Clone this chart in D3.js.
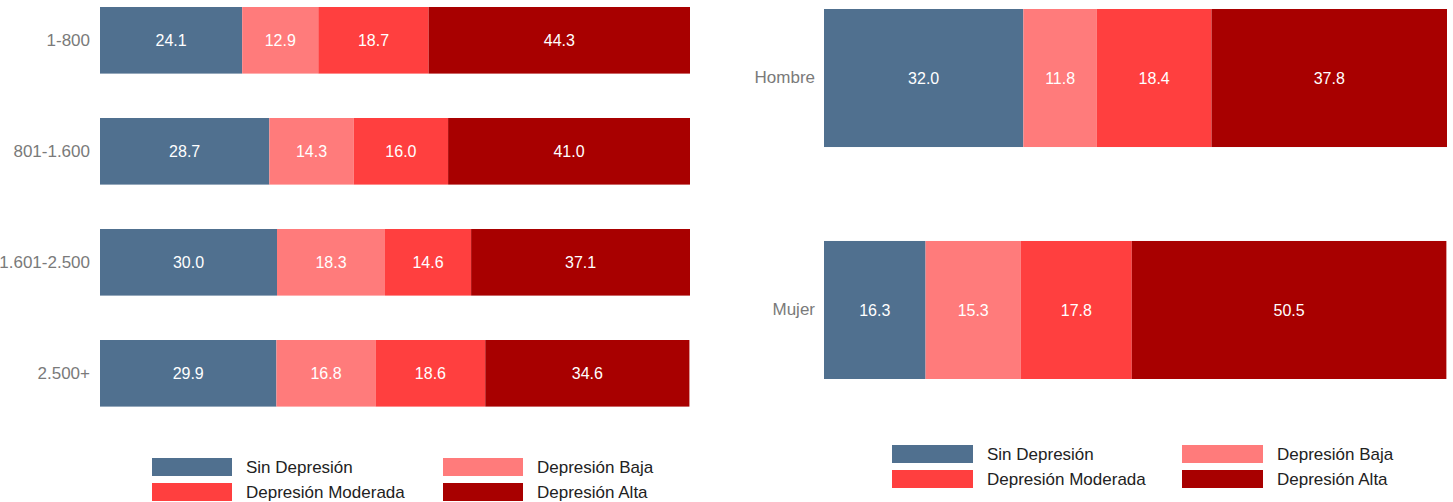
<!DOCTYPE html>
<html>
<head>
<meta charset="utf-8">
<script src="https://cdn.jsdelivr.net/npm/d3@7"></script>
<style>
  html, body { margin: 0; padding: 0; background: #fff; }
  svg { display: block; }
</style>
</head>
<body>
<svg id="chart" width="1453" height="502"></svg>
<script>
// ---- data ----
const series = ["Sin Depresión", "Depresión Baja", "Depresión Moderada", "Depresión Alta"];
const colors = ["#50708F", "#FF7B7B", "#FF3F3F", "#A80000"];

const incomeCategories = ["1-800", "801-1.600", "1.601-2.500", "2.500+"];
const incomeSin       = [24.1, 28.7, 30.0, 29.9];
const incomeBaja      = [12.9, 14.3, 18.3, 16.8];
const incomeModerada  = [18.7, 16.0, 14.6, 18.6];
const incomeAlta      = [44.3, 41.0, 37.1, 34.6];

const sexCategories = ["Hombre", "Mujer"];
const sexSin       = [32.0, 16.3];
const sexBaja      = [11.8, 15.3];
const sexModerada  = [18.4, 17.8];
const sexAlta      = [37.8, 50.5];

const legendOrder = [[0, 1], [2, 3]]; // rows of series indices

// ---- drawing ----
const svg = d3.select("#chart");
const font = "'Liberation Sans', Arial, sans-serif";

function buildRows(cats, arrays) {
  return cats.map((c, i) => {
    const row = { cat: c };
    series.forEach((s, j) => row[s] = arrays[j][i]);
    return row;
  });
}

function panel(cfg) {
  const rows = buildRows(cfg.cats, cfg.arrays);
  const stack = d3.stack().keys(series)(rows);
  const x = d3.scaleLinear().domain([0, 100]).range([cfg.x0, cfg.x1]);
  const y = d3.scaleBand().domain(cfg.cats).range([cfg.y0, cfg.y1])
    .paddingInner(cfg.pad).paddingOuter(0);

  const g = svg.append("g");
  const layers = g.selectAll("g.layer").data(stack).enter().append("g")
    .attr("fill", (d, i) => colors[i]);

  layers.selectAll("rect").data(d => d).enter().append("rect")
    .attr("x", d => x(d[0]))
    .attr("width", d => x(d[1]) - x(d[0]))
    .attr("y", d => y(d.data.cat))
    .attr("height", y.bandwidth());

  layers.selectAll("text").data(d => d).enter().append("text")
    .attr("x", d => (x(d[0]) + x(d[1])) / 2)
    .attr("y", d => y(d.data.cat) + y.bandwidth() / 2)
    .attr("dy", "0.35em")
    .attr("text-anchor", "middle")
    .attr("fill", "#fff")
    .style("font-family", font)
    .style("font-size", "16px")
    .text(d => (d[1] - d[0]).toFixed(1));

  // category axis (no line, no ticks)
  const axis = d3.axisLeft(y).tickSize(0).tickPadding(0);
  const ag = g.append("g").attr("transform", `translate(${cfg.labelX},0)`).call(axis);
  ag.select(".domain").remove();
  ag.selectAll("text")
    .attr("fill", "#7a7a7a")
    .style("font-family", font)
    .style("font-size", "17px");

  // legend
  const lg = g.append("g");
  legendOrder.forEach((row, r) => {
    row.forEach((si, c) => {
      const lx = cfg.leg.x[c];
      const ly = cfg.leg.y[r];
      lg.append("rect")
        .attr("x", lx).attr("y", ly)
        .attr("width", cfg.leg.w).attr("height", cfg.leg.h)
        .attr("fill", colors[si]);
      lg.append("text")
        .attr("x", lx + cfg.leg.w + 14)
        .attr("y", ly + cfg.leg.h / 2)
        .attr("dy", "0.35em")
        .attr("fill", "#222")
        .style("font-family", font)
        .style("font-size", "17px")
        .text(series[si]);
    });
  });
}

panel({
  cats: incomeCategories,
  arrays: [incomeSin, incomeBaja, incomeModerada, incomeAlta],
  x0: 100, x1: 690, y0: 7, y1: 406.6, pad: 0.4, labelX: 90,
  leg: { x: [152, 443], y: [458, 483], w: 80, h: 18 }
});

panel({
  cats: sexCategories,
  arrays: [sexSin, sexBaja, sexModerada, sexAlta],
  x0: 824, x1: 1447, y0: 9, y1: 379, pad: 0.405, labelX: 815,
  leg: { x: [892, 1182], y: [445, 470], w: 81, h: 18 }
});
</script>
</body>
</html>
